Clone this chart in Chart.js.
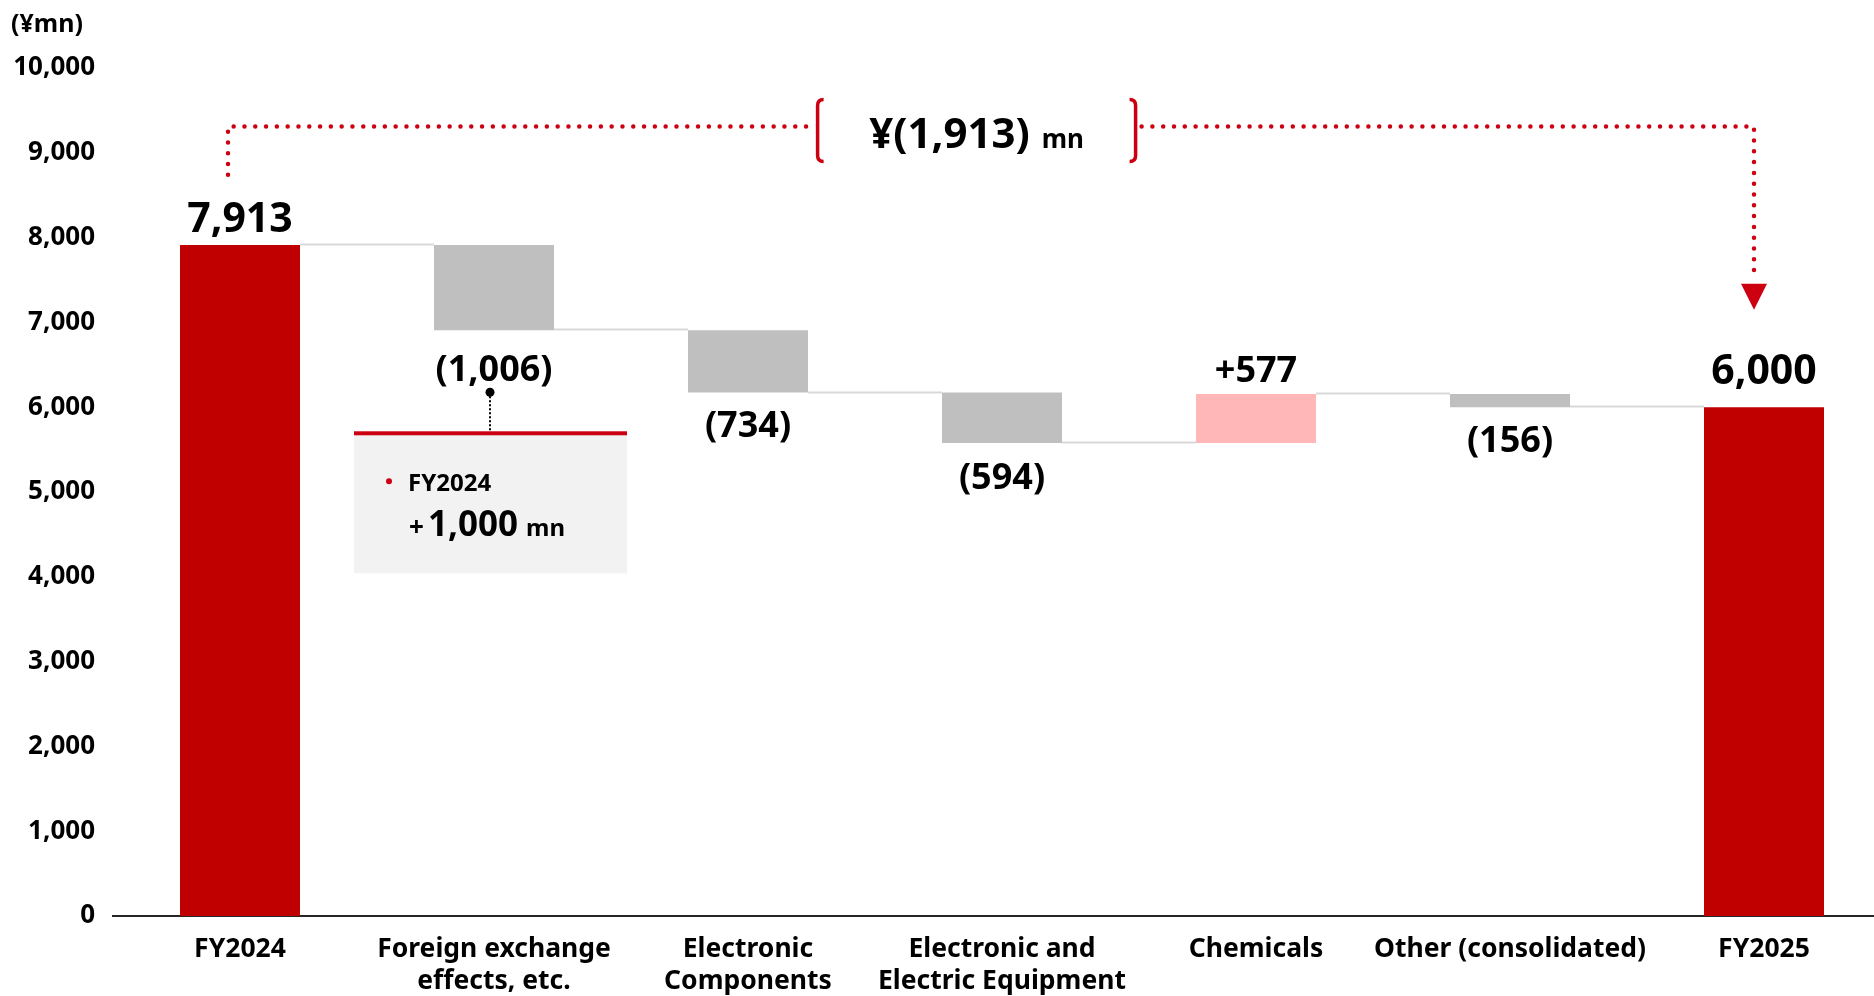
<!DOCTYPE html>
<html>
<head>
<meta charset="utf-8">
<script src="https://cdn.jsdelivr.net/npm/chart.js@4.4.1/dist/chart.umd.min.js"></script>
<style>
  html, body { margin: 0; padding: 0; overflow: hidden; background: #ffffff; }
  #wrap { position: relative; width: 1891px; height: 996px; }
</style>
</head>
<body>
<div id="wrap"><canvas id="bridge"></canvas></div>
<script>
// ---- Operating profit bridge, FY2024 -> FY2025 (¥mn) ----
const categories = [
  'FY2024',
  ['Foreign exchange', 'effects, etc.'],
  ['Electronic', 'Components'],
  ['Electronic and', 'Electric Equipment'],
  'Chemicals',
  'Other (consolidated)',
  'FY2025'
];
const openingProfit = 7913;
const segmentChanges = [-1006, -734, -594, 577, -156];
const closingProfit = 6000;
const axisMax = 10000;
const axisStep = 1000;
const unitLabel = '(¥mn)';
const fxNoteYear = 'FY2024';
const fxNoteAmount = 1000;

const FONT = '"Noto Sans", "Open Sans", sans-serif';
const RED = '#c00000';
const ACCENT = '#cc0011';
const GREY = '#bfbfbf';
const PINK = '#ffb7b7';

const fmt = v => Math.abs(v).toLocaleString('en-US');
const fmtChange = v => (v < 0 ? '(' + fmt(v) + ')' : '+' + fmt(v));

// Floating bars: [start, end] for each step of the bridge
const bars = [[0, openingProfit]];
const kinds = ['total'];
let running = openingProfit;
segmentChanges.forEach(d => {
  bars.push([running, running + d]);
  kinds.push(d < 0 ? 'down' : 'up');
  running += d;
});
bars.push([0, closingProfit]);
kinds.push('total');

const barLabels = [fmt(openingProfit), ...segmentChanges.map(fmtChange), fmt(closingProfit)];
const barColors = kinds.map(k => (k === 'total' ? RED : k === 'down' ? GREY : PINK));
const totalChange = closingProfit - openingProfit;

// distance in px between bar edge and label baseline
const labelGap = [13, 51, 44, 46, 12, 44.5, 23];

const bridgePlugin = {
  id: 'bridgeDecor',
  beforeDatasetsDraw(chart) {
    const { ctx } = chart;
    const y = chart.scales.y;
    const els = chart.getDatasetMeta(0).data;
    ctx.save();
    ctx.strokeStyle = '#d9d9d9';
    ctx.lineWidth = 2;
    for (let i = 0; i < els.length - 1; i++) {
      const a = els[i], b = els[i + 1];
      const py = Math.round(y.getPixelForValue(bars[i][1])) - 0.5;
      ctx.beginPath();
      ctx.moveTo(a.x + a.width / 2, py);
      ctx.lineTo(b.x - b.width / 2, py);
      ctx.stroke();
    }
    ctx.restore();
  },
  afterDatasetsDraw(chart) {
    const { ctx } = chart;
    const x = chart.scales.x;
    const y = chart.scales.y;
    const els = chart.getDatasetMeta(0).data;
    ctx.save();
    ctx.fillStyle = '#000';
    ctx.textAlign = 'center';
    ctx.textBaseline = 'alphabetic';

    // value labels
    els.forEach((el, i) => {
      const top = Math.min(el.y, el.base);
      const bottom = Math.max(el.y, el.base);
      const size = kinds[i] === 'total' ? 41 : 36;
      ctx.font = 'bold ' + size + 'px ' + FONT;
      const below = kinds[i] === 'down';
      const by = below ? bottom + labelGap[i] : top - labelGap[i];
      ctx.fillText(barLabels[i], el.x, by);
    });

    // callout under the FX step
    const fx = els[1];
    const fxBase = Math.max(fx.y, fx.base) + labelGap[1];
    const cx = fx.x - 4;
    ctx.fillStyle = '#000';
    ctx.beginPath();
    ctx.arc(cx, fxBase + 11, 4.5, 0, Math.PI * 2);
    ctx.fill();
    ctx.strokeStyle = '#000';
    ctx.lineWidth = 2;
    ctx.setLineDash([2, 2]);
    ctx.beginPath();
    ctx.moveTo(cx, fxBase + 15);
    ctx.lineTo(cx, fxBase + 50);
    ctx.stroke();
    ctx.setLineDash([]);
    const boxTop = fxBase + 52;
    ctx.fillStyle = '#f2f2f2';
    ctx.fillRect(cx - 136, boxTop, 273, 140);
    ctx.fillStyle = ACCENT;
    ctx.fillRect(cx - 136, boxTop - 2, 273, 4);
    ctx.beginPath();
    ctx.arc(cx - 101, boxTop + 48, 3, 0, Math.PI * 2);
    ctx.fill();
    ctx.fillStyle = '#000';
    ctx.textAlign = 'left';
    ctx.font = 'bold 24px ' + FONT;
    ctx.fillText(fxNoteYear, cx - 82, boxTop + 58);
    ctx.font = 'bold 26px ' + FONT;
    ctx.fillText('+', cx - 81, boxTop + 103);
    ctx.font = 'bold 35px ' + FONT;
    const amt = fmt(fxNoteAmount);
    ctx.fillText(amt, cx - 62, boxTop + 103);
    const amtW = ctx.measureText(amt).width;
    ctx.font = 'bold 24px ' + FONT;
    ctx.fillText('mn', cx - 62 + amtW + 8, boxTop + 103);

    // total change bracket with dotted path from FY2024 to FY2025
    const lineY = y.getPixelForValue(9310);
    const leftX = x.getPixelForValue(0) - 12;
    const rightX = x.getPixelForValue(categories.length - 1) - 10;
    const midX = x.getPixelForValue(2.9);
    const half = 159;
    const leftEnd = y.getPixelForValue(8740);
    const tipY = y.getPixelForValue(7150);

    ctx.strokeStyle = ACCENT;
    ctx.lineWidth = 4.5;
    ctx.lineCap = 'round';
    ctx.setLineDash([0, 10.8]);
    ctx.beginPath();
    ctx.moveTo(leftX, leftEnd);
    ctx.lineTo(leftX, lineY);
    ctx.lineTo(midX - half - 6, lineY);
    ctx.stroke();
    ctx.beginPath();
    ctx.moveTo(midX + half + 6, lineY);
    ctx.lineTo(rightX, lineY);
    ctx.lineTo(rightX, tipY - 30);
    ctx.stroke();
    ctx.setLineDash([]);

    // arrow head
    ctx.fillStyle = ACCENT;
    ctx.beginPath();
    ctx.moveTo(rightX - 13, tipY - 26);
    ctx.lineTo(rightX + 13, tipY - 26);
    ctx.lineTo(rightX, tipY);
    ctx.closePath();
    ctx.fill();

    // brackets
    const bTop = lineY - 27, bBot = lineY + 35;
    ctx.lineWidth = 3.5;
    ctx.lineCap = 'butt';
    ctx.beginPath();
    ctx.moveTo(midX - half + 6, bTop);
    ctx.quadraticCurveTo(midX - half, bTop, midX - half, bTop + 6);
    ctx.lineTo(midX - half, bBot - 6);
    ctx.quadraticCurveTo(midX - half, bBot, midX - half + 6, bBot);
    ctx.stroke();
    ctx.beginPath();
    ctx.moveTo(midX + half - 6, bTop);
    ctx.quadraticCurveTo(midX + half, bTop, midX + half, bTop + 6);
    ctx.lineTo(midX + half, bBot - 6);
    ctx.quadraticCurveTo(midX + half, bBot, midX + half - 6, bBot);
    ctx.stroke();

    // bracket text
    ctx.fillStyle = '#000';
    const main = '¥' + fmtChange(totalChange);
    ctx.font = 'bold 42px ' + FONT;
    const mw = ctx.measureText(main).width;
    ctx.font = 'bold 26px ' + FONT;
    const uw = ctx.measureText('mn').width;
    const gap = 12;
    const startX = midX - (mw + gap + uw) / 2;
    ctx.textAlign = 'left';
    ctx.font = 'bold 42px ' + FONT;
    ctx.fillText(main, startX, lineY + 21);
    ctx.font = 'bold 26px ' + FONT;
    ctx.fillText('mn', startX + mw + gap, lineY + 21);

    // unit label
    ctx.font = 'bold 25px ' + FONT;
    ctx.textBaseline = 'middle';
    ctx.fillText(unitLabel, 11, 25);
    ctx.restore();
  }
};

new Chart(document.getElementById('bridge'), {
  type: 'bar',
  data: {
    labels: categories,
    datasets: [{
      data: bars,
      backgroundColor: barColors,
      borderWidth: 0,
      categoryPercentage: 0.945,
      barPercentage: 0.5
    }]
  },
  options: {
    responsive: true,
    maintainAspectRatio: false,
    devicePixelRatio: 1,
    animation: false,
    layout: { padding: { top: 68, left: 0, right: 0, bottom: 0 } },
    plugins: { legend: { display: false }, tooltip: { enabled: false } },
    scales: {
      x: {
        grid: { display: false, drawTicks: false },
        border: { display: true, color: '#262626', width: 2 },
        ticks: {
          color: '#000',
          padding: 17,
          maxRotation: 0,
          autoSkip: false,
          font: { family: FONT, size: 26.5, weight: 'bold', lineHeight: 1.22 }
        },
        afterFit(scale) { scale.height = 80; }
      },
      y: {
        min: 0,
        max: axisMax,
        grid: { display: false, drawTicks: false },
        border: { display: false },
        ticks: {
          stepSize: axisStep,
          color: '#000',
          padding: 18,
          font: { family: FONT, size: 26, weight: 'bold' },
          callback: v => v.toLocaleString('en-US')
        },
        afterFit(scale) { scale.width = 113; }
      }
    }
  },
  plugins: [bridgePlugin]
});
</script>
</body>
</html>
